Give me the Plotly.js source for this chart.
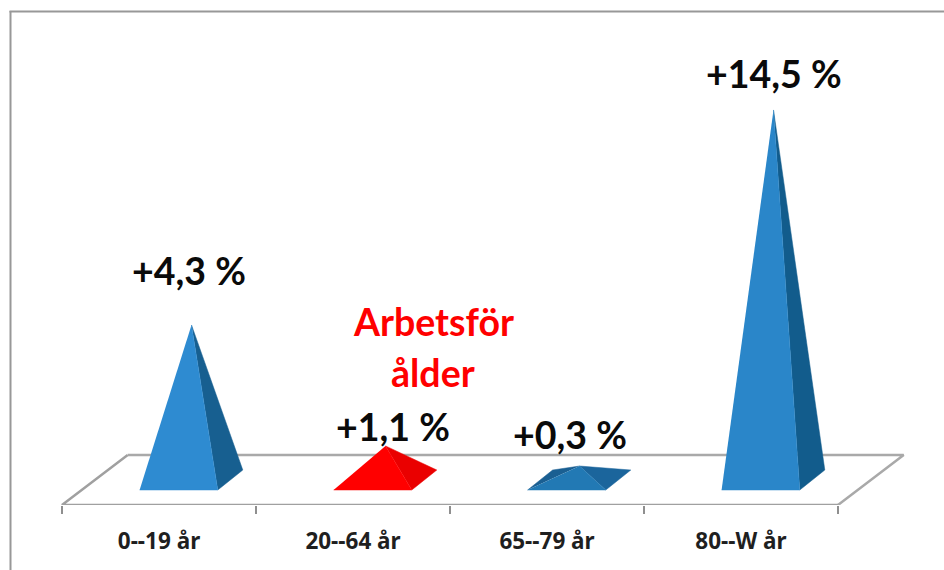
<!DOCTYPE html>
<html>
<head>
<meta charset="utf-8">
<script src="https://cdn.plot.ly/plotly-3.0.1.min.js"></script>
<style>html,body{margin:0;padding:0;background:#fff;overflow:hidden}</style>
</head>
<body>
<div id="chart" style="width:944px;height:570px"></div>
<script>
// Data
const categories = ["0--19 år", "20--64 år", "65--79 år", "80--W år"];
const changeLabels = ["+4,3 %", "+1,1 %", "+0,3 %", "+14,5 %"];
const heights = [5.84, 0.97, 0.16, 14.5];   // drawn pyramid height, as pictured

// Styles by kind of pyramid
const frontColors = ["#2e8bd1", "#ff0000", "#2279b4", "#2a86c9"];
const sideColors = ["#175f90", "#ea0000", "#1b659c", "#125c8c"];
const backColors = ["#175f90", "#ea0000", "#1a5f92", "#125c8c"];

// Pseudo-3D geometry in axis units
const W = 944, H = 570, unitX = 194, unitY = 24.83, zeroX = 159, zeroY = 470, floorPx = 505;
const xRange = [(0 - zeroX) / unitX, (W - zeroX) / unitX];
const yRange = [(zeroY - floorPx) / unitY, zeroY / unitY];
const baseFrontL = -0.1, baseFrontR = 0.303, baseShift = 0.129;
const baseFront = (zeroY - 490) / unitY, baseBack = 0;
const apexDx = 0.1675;
const floorFront = (zeroY - 505) / unitY, floorBack = (zeroY - 455) / unitY, floorShift = 0.3385;

const traces = [];
// floor
traces.push({
  type: "scatter", mode: "lines", hoverinfo: "skip", showlegend: false,
  x: [-0.5 + floorShift, 3.5 + floorShift, 3.5],
  y: [floorBack, floorBack, floorFront],
  line: {color: "#a9a9a9", width: 2.5}
});
traces.push({
  type: "scatter", mode: "lines", hoverinfo: "skip", showlegend: false,
  x: [-0.5 + floorShift, -0.5, 3.5],
  y: [floorBack, floorFront, floorFront],
  line: {color: "#a0a0a0", width: 2.5}
});

function face(xs, ys, color) {
  traces.push({
    type: "scatter", mode: "lines", fill: "toself", fillcolor: color,
    line: {color: color, width: 0.5}, hoverinfo: "skip", showlegend: false,
    x: xs, y: ys
  });
}
heights.forEach((h, i) => {
  const fl = i + baseFrontL, fr = i + baseFrontR;
  const ax = i + apexDx, ay = baseBack + h;
  // back-left face (only visible on the flattest pyramid)
  if (h < 0.5) face([fl, fl + baseShift, ax], [baseFront, baseBack, ay], backColors[i]);
  // right side
  face([fr, fr + baseShift, ax], [baseFront, baseBack, ay], sideColors[i]);
  // front
  face([fl, fr, ax], [baseFront, baseFront, ay], frontColors[i]);
});

const yAt = p => (zeroY - p) / unitY;
const xAt = p => (p - zeroX) / unitX;
const labelAnchors = [[189, 270.5], [393, 426.5], [570, 434.5], [774, 73.5]];
const annotations = changeLabels.map((t, i) => ({
  x: xAt(labelAnchors[i][0]), y: yAt(labelAnchors[i][1]), xref: "x", yref: "y",
  text: "<b>" + t + "</b>", showarrow: false, xanchor: "center", yanchor: "middle",
  font: {family: "Lato, 'Noto Sans', sans-serif", size: 37.5, color: "#0a0a0a"}
}));
["Arbetsför", "ålder"].forEach((t, i) => annotations.push({
  x: xAt(433), y: yAt(i ? 372 : 321), xref: "x", yref: "y",
  text: "<b>" + t + "</b>", showarrow: false, xanchor: "center", yanchor: "middle",
  font: {family: "Lato, 'Noto Sans', sans-serif", size: 37.5, color: "#ff0000"}
}));

const plotH = floorPx;
const layout = {
  width: W, height: H,
  margin: {l: 0, r: 0, t: 0, b: H - floorPx, pad: 0},
  paper_bgcolor: "#ffffff", plot_bgcolor: "#ffffff",
  showlegend: false,
  xaxis: {
    type: "linear", range: xRange, fixedrange: true, zeroline: false, showgrid: false, showline: false,
    tickmode: "array", tickvals: [0, 1, 2, 3], ticktext: categories,
    ticks: "", ticklabelstandoff: 20,
    tickfont: {family: "'Noto Sans', sans-serif", size: 22.5, color: "#1f1f1f", weight: "bold"},
    minor: {tickmode: "array", tickvals: [-0.5, 0.5, 1.5, 2.5, 3.5], ticks: "outside", ticklen: 8, tickwidth: 1.5, tickcolor: "#8f8f8f", showgrid: false}
  },
  yaxis: {type: "linear", range: yRange, fixedrange: true, visible: false},
  annotations: annotations,
  shapes: [
    {type: "line", xref: "paper", yref: "paper", x0: 9.5 / W, x1: 1, y0: 1 - 11.5 / plotH, y1: 1 - 11.5 / plotH, line: {color: "#989898", width: 2}, layer: "above"},
    {type: "line", xref: "paper", yref: "paper", x0: 10.5 / W, x1: 10.5 / W, y0: 1 - 11 / plotH, y1: -(H - floorPx) / plotH, line: {color: "#989898", width: 2}, layer: "above"}
  ]
};
Plotly.newPlot("chart", traces, layout, {displayModeBar: false, staticPlot: true});
</script>
</body>
</html>
